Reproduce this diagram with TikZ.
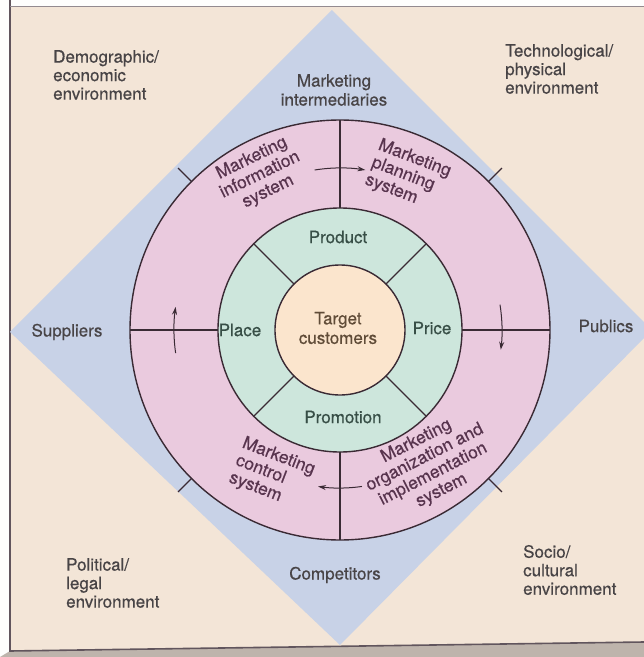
\documentclass[tikz,border=0pt]{standalone}
\usepackage{fontspec}
\setmainfont{TeX Gyre Heros}
\newfontfamily\labelfont{TeX Gyre Heros}[FakeBold=0.5]
\usetikzlibrary{arrows.meta}

\definecolor{paper}{RGB}{243,229,215}
\definecolor{desk}{RGB}{190,180,172}
\definecolor{envblue}{RGB}{200,210,231}
\definecolor{syspink}{RGB}{234,202,222}
\definecolor{mixgreen}{RGB}{205,230,220}
\definecolor{coreyellow}{RGB}{251,229,205}
\definecolor{ink}{RGB}{58,42,52}
\definecolor{greyink}{RGB}{72,68,70}
\definecolor{plumink}{RGB}{88,52,78}
\definecolor{greenink}{RGB}{55,78,70}
\definecolor{brownink}{RGB}{96,76,56}

\tikzset{
  envtext/.style={font=\labelfont\fontsize{17}{18.5}\selectfont, text=greyink, inner sep=0pt, anchor=west, align=left},
  forcetext/.style={font=\labelfont\fontsize{17}{19}\selectfont, text=greyink, inner sep=0pt, align=center},
  systext/.style={font=\labelfont\fontsize{17.5}{18.5}\selectfont, text=plumink, inner sep=0pt},
  mixtext/.style={font=\labelfont\fontsize{17}{19.5}\selectfont, text=greenink, inner sep=0pt},
  ring/.style={draw=ink, line width=1.4pt},
  divider/.style={draw=ink, line width=1.1pt},
  flow/.style={draw=ink, line width=1pt, -{Stealth[length=8pt,width=5pt]}}
}

\begin{document}
\begin{tikzpicture}[x=1pt,y=1pt]
\useasboundingbox (-340,-327) rectangle (304,330);
\fill[white!96!paper] (-340,-327) rectangle (304,330);
\fill[paper] (-330,-321) -- (-330,324) -- (304,324) -- (304,-312) -- cycle;
\fill[desk] (-340,-327) -- (-330,-321) -- (304,-312) -- (304,-327) -- cycle;
\draw[ink!80, line width=1.6pt] (-330,330) -- (-330,-321) -- (304,-312);
\draw[ink!55, line width=1pt] (-330,324) -- (304,324);

% outer environment
\coordinate (dtop) at (-8,320);
\coordinate (dright) at (312,0);
\coordinate (dbottom) at (0,-315);
\coordinate (dleft) at (-330,-2);
\fill[envblue] (dtop) -- (dright) -- (dbottom) -- (dleft) -- cycle;

\node[envtext] (demo) at (-287,255) {Demographic/\\economic\\environment};
\node[envtext] (tech) at (165,261) {Technological/\\physical\\environment};
\node[envtext] (poli) at (-274,-253) {Political/\\legal\\environment};
\node[envtext] (socio) at (183,-240) {Socio/\\cultural\\environment};

\node[forcetext] (inter) at (-6,240) {Marketing\\intermediaries};
\node[forcetext] (supp) at (-273,-2) {Suppliers};
\node[forcetext] (publ) at (266,4) {Publics};
\node[forcetext] (comp) at (-5,-245) {Competitors};

% rings
\fill[syspink] (0,0) circle (210);
\fill[mixgreen] (0,0) circle (122);
\fill[coreyellow] (0,0) circle (65);
\foreach \a in {45,135,225,315}{
  \draw[divider] (\a:210) -- (\a:229);
  \draw[divider] (\a:65) -- (\a:122);
}
\foreach \a in {0,90,180,270}
  \draw[divider] (\a:122) -- (\a:210);
\draw[ring] (0,0) circle (210);
\draw[ring] (0,0) circle (122);
\draw[ring] (0,0) circle (65);

\node[systext, align=center, rotate=26] (mis) at (-80,155) {Marketing\\information\\system};
\node[systext, align=left, rotate=-21] (mps) at (68,154) {Marketing\\planning\\system};
\node[systext, align=center, rotate=27] (moi) at (89,-136) {Marketing\\organization and\\implementation\\system};
\node[systext, align=left, rotate=-21] (mcs) at (-68,-144) {Marketing\\control\\system};

\node[mixtext] (product) at (-2,93) {Product};
\node[mixtext] (price) at (92,2) {Price};
\node[mixtext] (promo) at (3,-87) {Promotion};
\node[mixtext] (place) at (-100,0) {Place};
\node[mixtext, text=brownink, align=center] (target) at (-2,2) {Target\\customers};

% flows round the ring
\coordinate (misout) at (99:162);
\coordinate (mpsout) at (9:162);
\coordinate (moiout) at (-82:158);
\coordinate (mcsout) at (188:166);
\draw[flow] (misout) arc[start angle=99, end angle=81, radius=162];
\draw[flow] (mpsout) arc[start angle=9, end angle=-7, radius=162];
\draw[flow] (moiout) arc[start angle=-82, end angle=-98, radius=158];
\draw[flow] (mcsout) arc[start angle=188, end angle=172, radius=166];
\end{tikzpicture}
\end{document}
